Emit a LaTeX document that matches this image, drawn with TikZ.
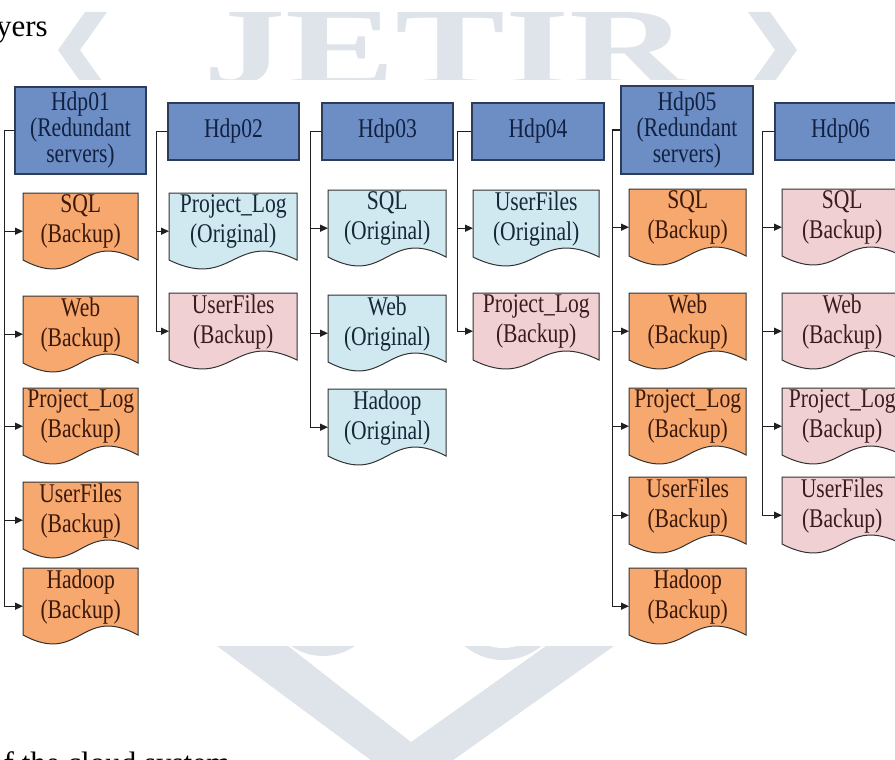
\documentclass[tikz,border=0pt]{standalone}
\usepackage{fontspec}
\setmainfont{Liberation Serif}
\newfontfamily\condserif[FakeStretch=0.8]{Liberation Serif}
\newfontfamily\wmfont[FakeStretch=1.5]{Liberation Serif}
\usetikzlibrary{arrows.meta}
\definecolor{hdrfill}{RGB}{108,142,196}
\definecolor{hdrline}{RGB}{44,60,90}
\definecolor{hdrtext}{RGB}{18,32,66}
\definecolor{orangefill}{RGB}{247,168,110}
\definecolor{bluefill}{RGB}{208,232,240}
\definecolor{pinkfill}{RGB}{240,208,210}
\definecolor{docline}{RGB}{50,50,50}
\definecolor{orangetext}{RGB}{58,24,10}
\definecolor{bluetext}{RGB}{22,40,56}
\definecolor{pinktext}{RGB}{58,28,30}
\definecolor{wmcol}{RGB}{222,228,233}
\tikzset{
  hdr/.style={draw=hdrline, fill=hdrfill, line width=1.3pt, text=hdrtext,
    font=\condserif\fontsize{27}{26}\selectfont, align=center, inner sep=0pt},
  docshape/.style={draw=docline, line width=1pt},
  docarea/.style={minimum height=76pt, anchor=north west, inner sep=0pt},
  doctext/.style={font=\condserif\fontsize{27}{30}\selectfont, align=center, inner sep=0pt},
  conn/.style={draw=black!88, line width=1.3pt},
  arr/.style={conn, -{Triangle[length=8pt,width=7pt]}},
  wm/.style={fill=wmcol, draw=none},
  pagetext/.style={font=\fontsize{31}{31}\selectfont, inner sep=0pt}
}
% name, x0, top, width, fill, textcolor, text
\newcommand\docnode[7]{%
  \path[docshape, fill=#5] (#2,#3) -- ({#2+#4},#3) -- ({#2+#4},{#3+67})
    .. controls ({#2+0.5*#4},{#3+36}) and ({#2+0.5*#4},{#3+98}) .. (#2,{#3+67}) -- cycle;
  \node[docarea, minimum width=#4pt] (#1) at (#2,#3) {};
  \node[doctext, text=#6] (#1t) at ([yshift=9.5pt]#1.center) {#7};
}
\begin{document}
\begin{tikzpicture}[x=1pt, y=-1pt]
\useasboundingbox (0,0) rectangle (895,760);
\begin{scope}
\clip (0,0) rectangle (895,760);
% ---------- watermark (visible only outside the diagram area)
\begin{scope}
  \clip (0,0) rectangle (895,80);
  \fill[wm] (85,12) -- (107,12) -- (80,50) -- (107,88) -- (85,88) -- (58,50) -- cycle;
  \fill[wm] (748,12) -- (770,12) -- (797,50) -- (770,88) -- (748,88) -- (775,50) -- cycle;
  \node[anchor=north, inner sep=0pt, text=wmcol, font=\wmfont\fontsize{110}{110}\bfseries\selectfont] (wmtext) at (446,12) {JETIR};
\end{scope}
\begin{scope}
  \clip (0,646) rectangle (895,760);
  \fill[wm] (217,646) -- (288,646) -- (411,742) -- (546,646) -- (614,646) -- (411,790) -- cycle;
  \fill[wm] (323,600) circle[radius=56];
  \fill[white] (323,600) circle[radius=44];
  \fill[wm] (503,600) circle[radius=60];
  \fill[white] (503,600) circle[radius=48];
\end{scope}
% ---------- page text fragments
\node[pagetext, anchor=base east] (pt1) at (48,37) {layers};
\node[pagetext, anchor=base west] (pt2) at (-12,773) {of the cloud system};
% ---------- headers
\node[hdr, minimum width=131pt, minimum height=87pt] (h1) at (80.5,130.5) {Hdp01\\(Redundant\\servers)};
\node[hdr, minimum width=131pt, minimum height=57pt] (h2) at (233.5,131.5) {Hdp02};
\node[hdr, minimum width=131pt, minimum height=57pt] (h3) at (387.5,131.5) {Hdp03};
\node[hdr, minimum width=132pt, minimum height=57pt] (h4) at (538,131.5) {Hdp04};
\node[hdr, minimum width=132pt, minimum height=88pt] (h5) at (687,130) {Hdp05\\(Redundant\\servers)};
\node[hdr, minimum width=131pt, minimum height=57pt] (h6) at (840.5,131.5) {Hdp06};
% ---------- documents
\docnode{a1}{23}{193}{115}{orangefill}{orangetext}{SQL\\(Backup)}
\docnode{a2}{23}{296}{115}{orangefill}{orangetext}{Web\\(Backup)}
\docnode{a3}{23}{388}{115}{orangefill}{orangetext}{Project\_Log\\(Backup)}
\docnode{a4}{23}{482}{115}{orangefill}{orangetext}{UserFiles\\(Backup)}
\docnode{a5}{23}{568}{115}{orangefill}{orangetext}{Hadoop\\(Backup)}
\docnode{b1}{169}{193}{128}{bluefill}{bluetext}{Project\_Log\\(Original)}
\docnode{b2}{169}{293}{128}{pinkfill}{pinktext}{UserFiles\\(Backup)}
\docnode{c1}{328}{190}{118}{bluefill}{bluetext}{SQL\\(Original)}
\docnode{c2}{328}{295}{118}{bluefill}{bluetext}{Web\\(Original)}
\docnode{c3}{328}{389}{118}{bluefill}{bluetext}{Hadoop\\(Original)}
\docnode{e1}{473}{190}{126}{bluefill}{bluetext}{UserFiles\\(Original)}
\docnode{e2}{473}{293}{126}{pinkfill}{pinktext}{Project\_Log\\(Backup)}
\docnode{f1}{629}{189}{117}{orangefill}{orangetext}{SQL\\(Backup)}
\docnode{f2}{629}{293}{117}{orangefill}{orangetext}{Web\\(Backup)}
\docnode{f3}{629}{388}{117}{orangefill}{orangetext}{Project\_Log\\(Backup)}
\docnode{f4}{629}{477}{117}{orangefill}{orangetext}{UserFiles\\(Backup)}
\docnode{f5}{629}{568}{117}{orangefill}{orangetext}{Hadoop\\(Backup)}
\docnode{g1}{782}{189}{120}{pinkfill}{pinktext}{SQL\\(Backup)}
\docnode{g2}{782}{293}{120}{pinkfill}{pinktext}{Web\\(Backup)}
\docnode{g3}{782}{388}{120}{pinkfill}{pinktext}{Project\_Log\\(Backup)}
\docnode{g4}{782}{477}{120}{pinkfill}{pinktext}{UserFiles\\(Backup)}
% ---------- connectors
\coordinate (bus1) at ([xshift=-10pt]h1.west);
\coordinate (bus2) at ([xshift=-11pt]h2.west);
\coordinate (bus3) at ([xshift=-11pt]h3.west);
\coordinate (bus4) at ([xshift=-14pt]h4.west);
\coordinate (bus5) at ([xshift=-8pt]h5.west);
\coordinate (bus6) at ([xshift=-12pt]h6.west);
\foreach \d in {a1,a2,a3,a4,a5} \draw[arr] (h1.west) -- (bus1) |- (\d.west);
\foreach \d in {b1,b2} \draw[arr] (h2.west) -- (bus2) |- (\d.west);
\foreach \d in {c1,c2,c3} \draw[arr] (h3.west) -- (bus3) |- (\d.west);
\foreach \d in {e1,e2} \draw[arr] (h4.west) -- (bus4) |- (\d.west);
\foreach \d in {f1,f2,f3,f4,f5} \draw[arr] (h5.west) -- (bus5) |- (\d.west);
\foreach \d in {g1,g2,g3,g4} \draw[arr] (h6.west) -- (bus6) |- (\d.west);
\end{scope}
\end{tikzpicture}
\end{document}
